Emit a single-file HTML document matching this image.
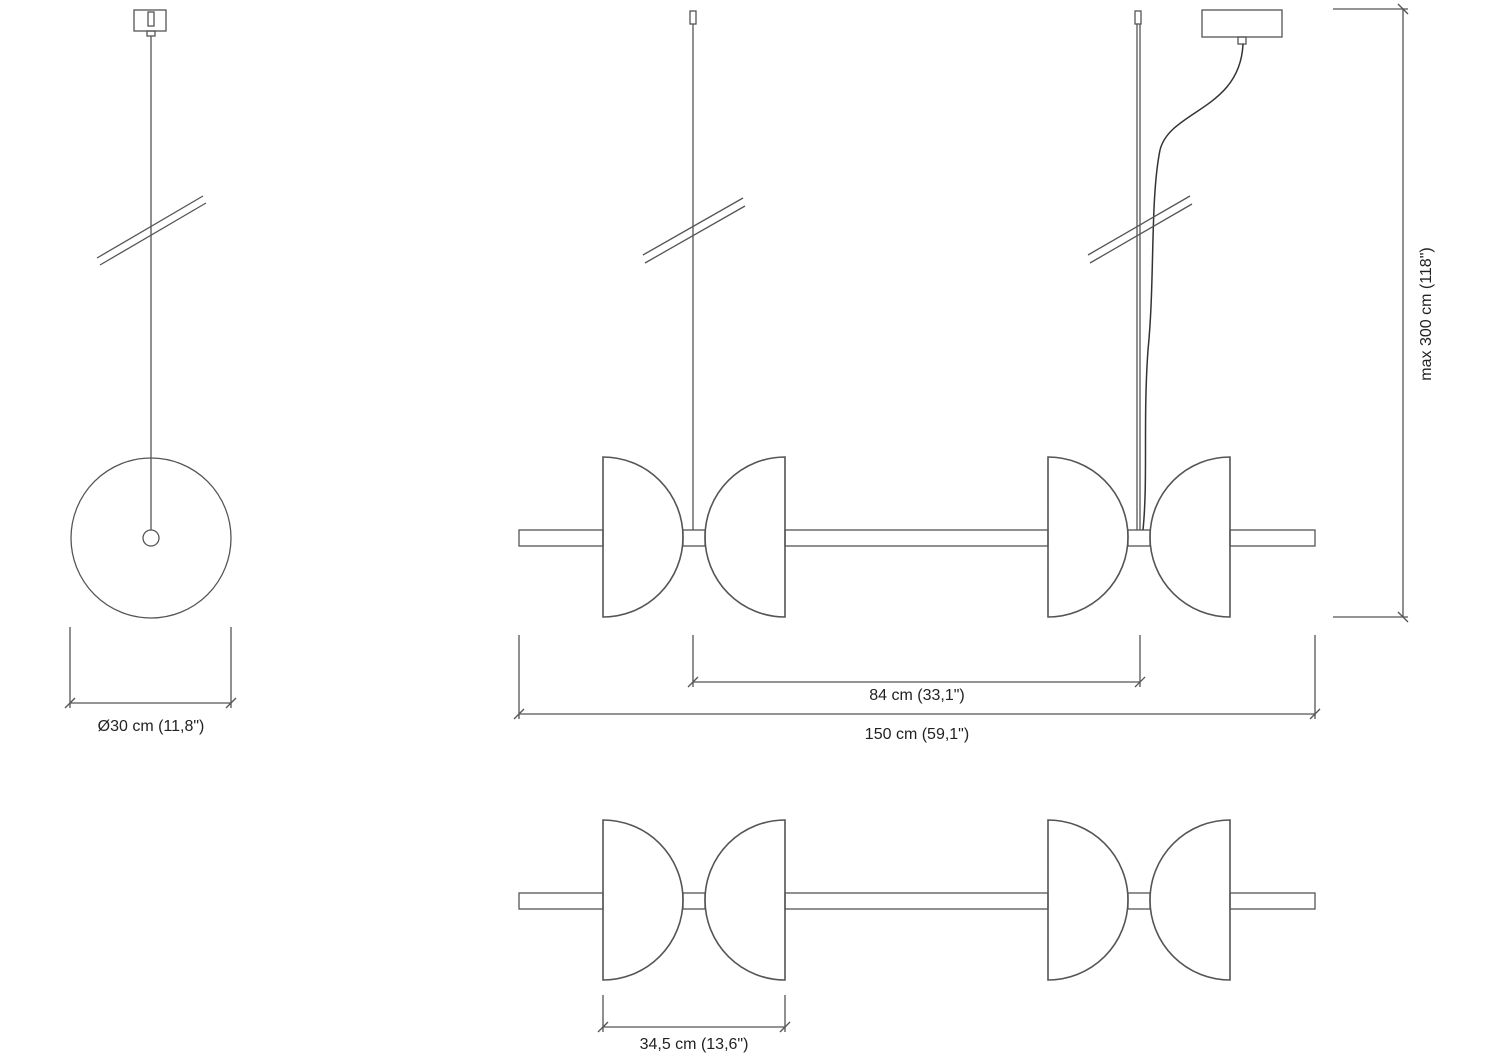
<!DOCTYPE html>
<html><head><style>body{margin:0;background:#fff}svg{display:block}text{font-family:"Liberation Sans",sans-serif;font-size:16px;fill:#222}</style></head><body>
<svg width="1500" height="1058" viewBox="0 0 1500 1058" fill="none" stroke="#555" stroke-width="1.3">
<defs>
<g id="row">
<rect x="519" y="530" width="84" height="16"/>
<path d="M603 457 A80 80 0 0 1 603 617 Z" stroke-width="1.6"/>
<rect x="683" y="530" width="22" height="16"/>
<path d="M785 457 A80 80 0 0 0 785 617 Z" stroke-width="1.6"/>
<rect x="785" y="530" width="263" height="16"/>
<path d="M1048 457 A80 80 0 0 1 1048 617 Z" stroke-width="1.6"/>
<rect x="1128" y="530" width="22" height="16"/>
<path d="M1230 457 A80 80 0 0 0 1230 617 Z" stroke-width="1.6"/>
<rect x="1230" y="530" width="85" height="16"/>
</g>
</defs>
<!-- left view -->
<rect x="134" y="10" width="32" height="21"/>
<rect x="148" y="12" width="6" height="14"/>
<rect x="147" y="31" width="8" height="5"/>
<line x1="151" y1="36" x2="151" y2="530"/>
<circle cx="151" cy="538" r="80"/>
<circle cx="151" cy="538" r="8"/>
<line x1="97" y1="258" x2="203" y2="196"/><line x1="100" y1="265" x2="206" y2="203"/>
<line x1="70" y1="627" x2="70" y2="708"/><line x1="231" y1="627" x2="231" y2="708"/>
<line x1="70" y1="703" x2="231" y2="703"/>
<line x1="65" y1="708" x2="75" y2="698"/><line x1="226" y1="708" x2="236" y2="698"/>
<text x="151" y="731" text-anchor="middle" stroke="none">Ø30 cm (11,8")</text>
<!-- main view -->
<use href="#row"/>
<use href="#row" y="363"/>
<rect x="690" y="11" width="6" height="13"/><line x1="693" y1="24" x2="693" y2="530"/>
<rect x="1135" y="11" width="6" height="13"/><line x1="1137" y1="24" x2="1137" y2="530"/><line x1="1140" y1="24" x2="1140" y2="530"/>
<rect x="1202" y="10" width="80" height="27"/>
<rect x="1238" y="37" width="8" height="7"/>
<path d="M1243 44 C1240 110 1170 110 1160 150 C1150 200 1155 280 1148 350 C1143 420 1148 480 1143 530" stroke="#333" stroke-width="1.5"/>
<line x1="643" y1="255" x2="743" y2="198"/><line x1="645" y1="263" x2="745" y2="206"/>
<line x1="1088" y1="255" x2="1190" y2="196"/><line x1="1090" y1="263" x2="1192" y2="204"/>
<!-- dims -->
<line x1="519" y1="635" x2="519" y2="719"/><line x1="1315" y1="635" x2="1315" y2="719"/>
<line x1="519" y1="714" x2="1315" y2="714"/>
<line x1="514" y1="719" x2="524" y2="709"/><line x1="1310" y1="719" x2="1320" y2="709"/>
<text x="917" y="739" text-anchor="middle" stroke="none">150 cm (59,1")</text>
<line x1="693" y1="635" x2="693" y2="687"/><line x1="1140" y1="635" x2="1140" y2="687"/>
<line x1="693" y1="682" x2="1140" y2="682"/>
<line x1="688" y1="687" x2="698" y2="677"/><line x1="1135" y1="687" x2="1145" y2="677"/>
<text x="917" y="700" text-anchor="middle" stroke="none">84 cm (33,1")</text>
<line x1="1333" y1="9" x2="1408" y2="9"/><line x1="1333" y1="617" x2="1408" y2="617"/>
<line x1="1403" y1="9" x2="1403" y2="617"/>
<line x1="1398" y1="4" x2="1408" y2="14"/><line x1="1398" y1="612" x2="1408" y2="622"/>
<text transform="translate(1431 314) rotate(-90)" text-anchor="middle" stroke="none">max 300 cm (118")</text>
<line x1="603" y1="995" x2="603" y2="1032"/><line x1="785" y1="995" x2="785" y2="1032"/>
<line x1="603" y1="1027" x2="785" y2="1027"/>
<line x1="598" y1="1032" x2="608" y2="1022"/><line x1="780" y1="1032" x2="790" y2="1022"/>
<text x="694" y="1049" text-anchor="middle" stroke="none">34,5 cm (13,6")</text>
</svg>
</body></html>
